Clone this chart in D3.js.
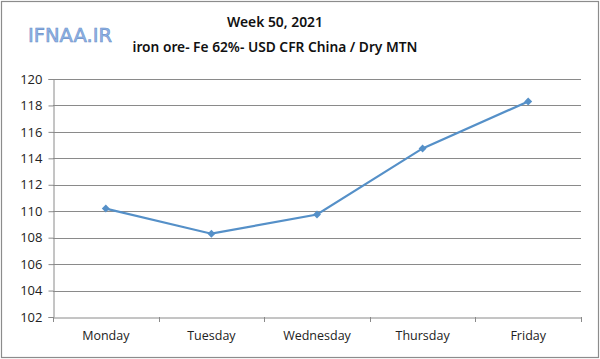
<!DOCTYPE html>
<html><head><meta charset="utf-8">
<script src="https://cdn.jsdelivr.net/npm/d3@7"></script>
<style>body{margin:0;background:#fff}svg{display:block}</style>
</head><body><svg id="c" width="600" height="359"></svg>
<script>
const categories = ["Monday","Tuesday","Wednesday","Thursday","Friday"];
const values = [110.2, 108.3, 109.75, 114.75, 118.3];
const yTicks = [102,104,106,108,110,112,114,116,118,120];
const title1 = "Week 50, 2021";
const title2 = "iron ore- Fe 62%- USD CFR China / Dry MTN";

const svg = d3.select("#c");
const W = 600, H = 359;
const m = {l:53, r:19, t:79, b:42};
svg.append("rect").attr("x",1.5).attr("y",1.5).attr("width",W-3).attr("height",H-3)
  .attr("fill","#fff").attr("stroke","#8c8c8c").attr("stroke-width",1.2);

const x = d3.scaleBand().domain(categories).range([m.l, W-m.r]);
const y = d3.scaleLinear().domain([102,120]).range([H-m.b, m.t]);

const font = "'Open Sans', 'Liberation Sans', sans-serif";
// gridlines
svg.append("g").selectAll("line").data(yTicks.slice(1)).join("line")
  .attr("x1", m.l).attr("x2", W-m.r)
  .attr("y1", d=>Math.round(y(d))+0.5).attr("y2", d=>Math.round(y(d))+0.5)
  .attr("stroke","#8a8a8a").attr("stroke-width",1);

// y axis
const ya = svg.append("g").attr("transform",`translate(${m.l+0.5},0)`)
  .call(d3.axisLeft(y).tickValues(yTicks).tickSize(5).tickPadding(6));
ya.select(".domain").attr("stroke","#8a8a8a");
ya.selectAll(".tick line").attr("stroke","#8a8a8a");
ya.selectAll("text").attr("font-family",font).attr("font-size",13).attr("fill","#222");

// x axis
const xa = svg.append("g").attr("transform",`translate(0,${Math.round(H-m.b)+0.5})`)
  .call(d3.axisBottom(x).tickSize(0).tickPadding(14));
xa.select(".domain").attr("stroke","#8a8a8a");
xa.selectAll("text").attr("font-family",font).attr("font-size",12.5).attr("fill","#222");
const bounds = categories.map(c=>x(c)).concat([x(categories[categories.length-1])+x.bandwidth()]);
svg.append("g").selectAll("line").data(bounds).join("line")
  .attr("x1",d=>Math.round(d)+0.5).attr("x2",d=>Math.round(d)+0.5)
  .attr("y1",H-m.b).attr("y2",H-m.b+5).attr("stroke","#8a8a8a");

// line
const cx = d => x(d) + x.bandwidth()/2;
const pts = categories.map((c,i)=>[cx(c), y(values[i])]);
svg.append("path").attr("d", d3.line()(pts)).attr("fill","none")
  .attr("stroke","#5590c8").attr("stroke-width",2.2);
svg.append("g").selectAll("path").data(pts).join("path")
  .attr("transform",d=>`translate(${d[0]},${d[1]})`)
  .attr("d", d3.symbol(d3.symbolDiamond2, 40)())
  .attr("fill","#5590c8");

// titles
svg.append("text").attr("x",275).attr("y",27).attr("text-anchor","middle")
  .attr("font-family","'Noto Sans', sans-serif").attr("font-weight",600).attr("font-size",15)
  .attr("textLength",96).attr("lengthAdjust","spacingAndGlyphs")
  .attr("fill","#111").text(title1);
svg.append("text").attr("x",275).attr("y",52).attr("text-anchor","middle")
  .attr("font-family","'Noto Sans', sans-serif").attr("font-weight",600).attr("font-size",15)
  .attr("textLength",285).attr("lengthAdjust","spacingAndGlyphs")
  .attr("fill","#111").text(title2);

// logo
svg.append("text").attr("x",28).attr("y",42).attr("font-family","'DejaVu Sans', sans-serif")
  .attr("font-size",20).attr("fill","#8fb4e8").attr("stroke","#6b8fc7").attr("stroke-width",0.6)
  .attr("textLength",84).attr("lengthAdjust","spacingAndGlyphs")
  .text("IFNAA.IR");
</script></body></html>
